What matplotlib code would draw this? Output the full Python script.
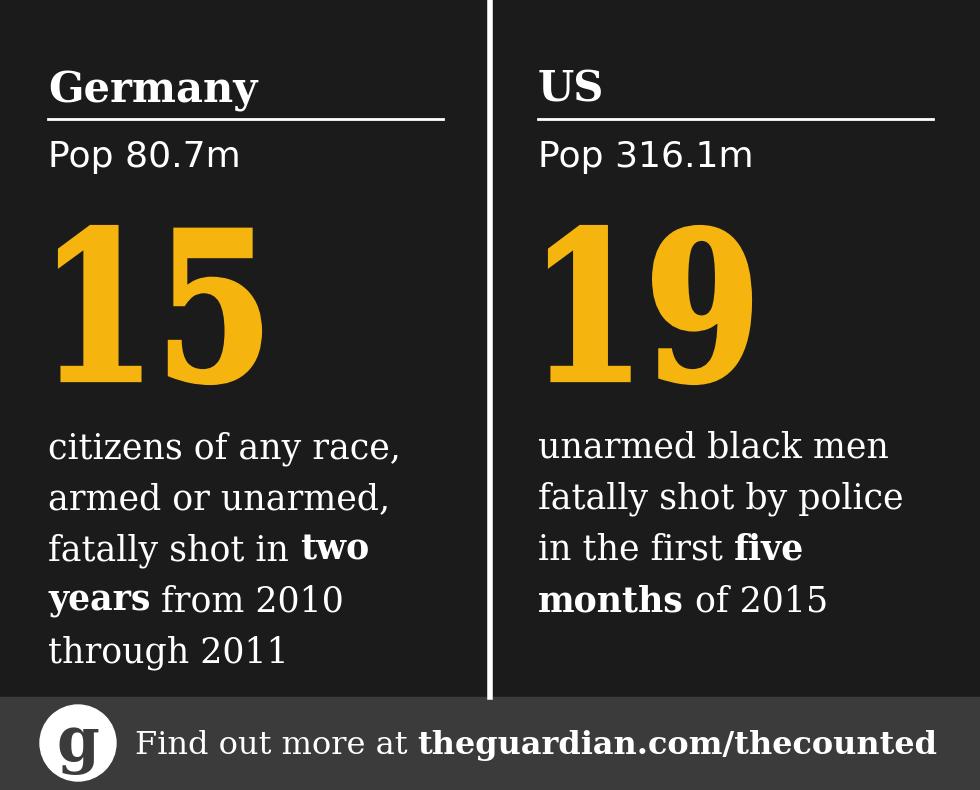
import matplotlib
matplotlib.use("Agg")
import matplotlib.pyplot as plt
from matplotlib.patches import Rectangle, Circle, PathPatch
from matplotlib.textpath import TextPath
from matplotlib.font_manager import FontProperties
from matplotlib.transforms import Affine2D

countries = ["Germany", "US"]
pops = ["Pop 80.7m", "Pop 316.1m"]
numbers = ["15", "19"]
descs = [
    [[("citizens of any race,", False)], [("armed or unarmed,", False)],
     [("fatally shot in ", False), ("two", True)],
     [("years", True), (" from 2010", False)], [("through 2011", False)]],
    [[("unarmed black men", False)], [("fatally shot by police", False)],
     [("in the first ", False), ("five", True)],
     [("months", True), (" of 2015", False)]],
]
footer = [("Find out more at ", False), ("theguardian.com/thecounted", True)]

BG = "#1b1b1b"; YEL = "#f6b40e"; FOOT = "#3b3b3b"
fig = plt.figure(figsize=(9.8, 7.9), dpi=100, facecolor=BG)
ax = fig.add_axes([0, 0, 1, 1]); ax.set_xlim(0, 980); ax.set_ylim(790, 0); ax.axis("off")
ax.add_patch(Rectangle((0, 697), 980, 93, color=FOOT))
ax.plot([490, 490], [0, 697], color="white", lw=4)
fig.canvas.draw()
r = fig.canvas.get_renderer()
inv = ax.transData.inverted()

def seq(x, y, parts, size):
    for s, b in parts:
        t = ax.text(x, y, s, color="white", fontsize=size, family="DejaVu Serif",
                    weight="bold" if b else "light", va="baseline", ha="left")
        bb = t.get_window_extent(r)
        x = inv.transform((bb.x1, bb.y0))[0]

fp = FontProperties(family="DejaVu Serif", weight="bold")
for i, x0 in enumerate([48, 538]):
    ax.text(x0, 102, countries[i], color="white", fontsize=30, weight="bold",
            family="DejaVu Serif", va="baseline")
    ax.plot([x0, x0 + 395], [119, 119], color="white", lw=2)
    ax.text(x0, 167, pops[i], color="white", fontsize=26, family="DejaVu Sans", va="baseline")
    tp = TextPath((0, 0), numbers[i], size=100, prop=fp)
    ext = tp.get_extents()
    sy = 156 / ext.height
    sx = 200 / ext.width
    tr = Affine2D().translate(-ext.x0, -ext.y0).scale(sx, -sy).translate(x0 + 12, 383)
    ax.add_patch(PathPatch(tr.transform_path(tp), facecolor=YEL, edgecolor=YEL, lw=3))
    for j, line in enumerate(descs[i]):
        seq(x0, 458 + j * 51, line, 25)

ax.add_patch(Circle((78, 743), 38, color="white"))
ax.text(78, 745, "g", color=FOOT, fontsize=44, weight="bold", family="DejaVu Serif",
        ha="center", va="center")
seq(135, 754, footer, 23)
fig.savefig("out.png", dpi=100, facecolor=BG)
